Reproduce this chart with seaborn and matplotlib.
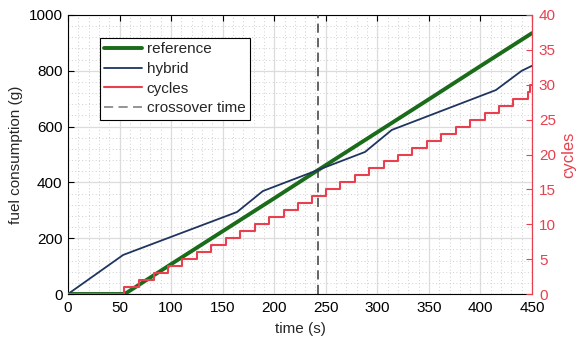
import matplotlib
matplotlib.use("Agg")
import matplotlib.pyplot as plt
import seaborn as sns
import pandas as pd
from matplotlib.ticker import MultipleLocator

# ---- data ----
ref_t = [0, 55, 100, 150, 200, 250, 300, 350, 400, 450]
ref_fuel = [0, 0, 107, 225, 343, 462, 580, 698, 817, 935]

hyb_t = [0, 53.5, 164, 189, 288, 314, 415, 440, 450]
hyb_fuel = [0, 140, 294, 369, 509, 588, 731, 800, 818]

cycle_step_times = [54, 68.5, 83, 97, 111, 125, 139, 153, 167, 181, 195, 209,
                    223, 237, 250, 264, 278, 292, 306, 320, 334, 348, 362, 376,
                    390, 404, 418, 432, 446, 448.5]
cycle_counts = list(range(1, len(cycle_step_times) + 1))

crossover_time = 242.5

x_ticks = [0, 50, 100, 150, 200, 250, 300, 350, 400, 450]
y_ticks = [0, 200, 400, 600, 800, 1000]
y2_ticks = [0, 5, 10, 15, 20, 25, 30, 35, 40]

GREEN = "#1a6b1a"
NAVY = "#1f3560"
RED = "#e8404f"
DASH = "#3a3a3a"

sns.set_theme(style="white")
plt.rcParams["font.family"] = ["Liberation Sans", "DejaVu Sans"]
plt.rcParams["font.size"] = 11

fig = plt.figure(figsize=(5.78, 3.43), dpi=100)
ax = fig.add_axes([68/578, 1-294/343, 464/578, 279/343])

df_ref = pd.DataFrame({"t": ref_t, "fuel": ref_fuel})
df_hyb = pd.DataFrame({"t": hyb_t, "fuel": hyb_fuel})
cyc_t = [0] + cycle_step_times + [450]
cyc_v = [0] + cycle_counts + [cycle_counts[-1]]
df_cyc = pd.DataFrame({"t": cyc_t, "c": cyc_v})

sns.lineplot(data=df_ref, x="t", y="fuel", ax=ax, color=GREEN, lw=2.8,
             label="reference", estimator=None, sort=False, zorder=3)
sns.lineplot(data=df_hyb, x="t", y="fuel", ax=ax, color=NAVY, lw=1.3,
             label="hybrid", estimator=None, sort=False, zorder=3)
vl = ax.axvline(crossover_time, color=DASH, lw=1.1, ls=(0, (6, 3.5)),
                label="crossover time", zorder=4)

ax.set_xlim(0, 450)
ax.set_ylim(0, 1000)
ax.set_xticks(x_ticks)
ax.set_yticks(y_ticks)
ax.xaxis.set_minor_locator(MultipleLocator(10))
ax.yaxis.set_minor_locator(MultipleLocator(40))
ax.grid(True, which="major", color="#dcdcdc", lw=0.9, ls="-")
ax.grid(True, which="minor", color="#cfcfcf", lw=0.7, ls=(0, (1, 2.5)))
ax.set_axisbelow(True)
ax.tick_params(axis="both", which="major", direction="in", length=4,
               width=0.8, colors="black", labelsize=11, top=True)
ax.tick_params(axis="x", which="major", pad=5)
ax.tick_params(axis="y", which="major", pad=4)
ax.tick_params(axis="both", which="minor", length=0)
ax.set_xlabel("time (s)", fontsize=11, labelpad=5)
ax.set_ylabel("fuel consumption (g)", fontsize=11, labelpad=4)
for s in ["left", "bottom", "top"]:
    ax.spines[s].set_color("black")
    ax.spines[s].set_linewidth(0.8)
ax.spines["right"].set_visible(False)

ax2 = ax.twinx()
ax2.step(df_cyc["t"], df_cyc["c"], where="post", color=RED, lw=1.5,
         label="cycles", zorder=5)
ax2.set_ylim(0, 40)
ax2.set_yticks(y2_ticks)
ax2.tick_params(axis="y", direction="in", length=4, width=0.8, colors=RED,
                labelsize=11, pad=5)
ax2.set_ylabel("cycles", color=RED, fontsize=12, labelpad=4)
ax2.spines["right"].set_color(RED)
ax2.spines["right"].set_linewidth(0.9)
for s in ["left", "top", "bottom"]:
    ax2.spines[s].set_visible(False)
ax2.grid(False)

if ax.get_legend() is not None:
    ax.get_legend().remove()
h1, l1 = ax.get_legend_handles_labels()
h2, l2 = ax2.get_legend_handles_labels()
handles = {l: h for h, l in zip(h1 + h2, l1 + l2)}
order = ["reference", "hybrid", "cycles", "crossover time"]
leg = ax2.legend([handles[o] for o in order], order, loc="upper left",
                 bbox_to_anchor=((99.5-68)/464, (294-37.5)/279),
                 borderaxespad=0, frameon=True, fancybox=False,
                 edgecolor="black", framealpha=1, fontsize=11,
                 handlelength=2.5, handletextpad=0.3, borderpad=0.3,
                 labelspacing=0.38)
leg.get_frame().set_linewidth(0.8)
leg.get_lines()[3].set_color("#777777")

fig.savefig("out.png", dpi=100)
